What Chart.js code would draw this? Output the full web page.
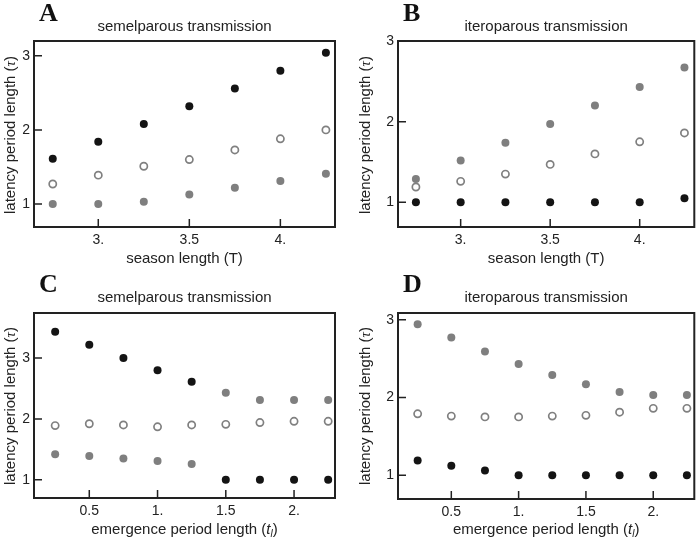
<!DOCTYPE html>
<html>
<head>
<meta charset="utf-8">
<script src="https://cdn.jsdelivr.net/npm/chart.js@4.4.1/dist/chart.umd.min.js"></script>
<style>
body { margin: 0; background: #fff; }
#wrap { position: relative; width: 700px; height: 542px; }
#wrap canvas { position: absolute; }
</style>
</head>
<body>
<div id="wrap">
  <canvas id="panelA" width="350" height="271" style="left:0;top:0"></canvas>
  <canvas id="panelB" width="350" height="271" style="left:350px;top:0"></canvas>
  <canvas id="panelC" width="350" height="271" style="left:0;top:271px"></canvas>
  <canvas id="panelD" width="350" height="271" style="left:350px;top:271px"></canvas>
</div>
<script>
// season length (T) panels A, B
const seasonLength = [2.75, 3, 3.25, 3.5, 3.75, 4, 4.25];
const semelSeasonBlack = [1.61, 1.84, 2.08, 2.32, 2.56, 2.80, 3.04];
const semelSeasonOpen  = [1.27, 1.39, 1.51, 1.60, 1.73, 1.88, 2.00];
const semelSeasonGrey  = [1.00, 1.00, 1.03, 1.13, 1.22, 1.31, 1.41];
const iteroSeasonBlack = [1.00, 1.00, 1.00, 1.00, 1.00, 1.00, 1.05];
const iteroSeasonOpen  = [1.19, 1.26, 1.35, 1.47, 1.60, 1.75, 1.86];
const iteroSeasonGrey  = [1.29, 1.52, 1.74, 1.97, 2.20, 2.43, 2.67];

// emergence period length (t_l) panels C, D
const emergenceLength = [0.25, 0.5, 0.75, 1, 1.25, 1.5, 1.75, 2, 2.25];
const semelEmergBlack = [3.43, 3.22, 3.00, 2.80, 2.61, 1.00, 1.00, 1.00, 1.00];
const semelEmergOpen  = [1.89, 1.92, 1.90, 1.87, 1.90, 1.91, 1.94, 1.96, 1.96];
const semelEmergGrey  = [1.42, 1.39, 1.35, 1.31, 1.26, 2.43, 2.31, 2.31, 2.31];
const iteroEmergBlack = [1.19, 1.12, 1.06, 1.00, 1.00, 1.00, 1.00, 1.00, 1.00];
const iteroEmergOpen  = [1.79, 1.76, 1.75, 1.75, 1.76, 1.77, 1.81, 1.86, 1.86];
const iteroEmergGrey  = [2.94, 2.77, 2.59, 2.43, 2.29, 2.17, 2.07, 2.03, 2.03];

const seasonTicks = [3, 3.5, 4];
const emergenceTicks = [0.5, 1, 1.5, 2];
const latencyTicks = [1, 2, 3];

const SANS = "'Liberation Sans', Arial, sans-serif";
const SERIF = "'Liberation Serif', 'Times New Roman', serif";

function mathFmt(v) {
    // mathematica style: whole numbers get a trailing dot
    return Number.isInteger(v) ? v + '.' : String(v);
}

const latencyTitle = [
    {text: 'latency period length (', font: '15px ' + SANS},
    {text: 'τ', font: 'italic 15px ' + SERIF},
    {text: ')', font: '15px ' + SANS}
];
const seasonTitle = [{text: 'season length (T)', font: '15px ' + SANS}];
const emergenceTitle = [
    {text: 'emergence period length (', font: '15px ' + SANS},
    {text: 't', font: 'italic 15px ' + SANS},
    {text: 'l', font: 'italic 10px ' + SANS, dy: 3},
    {text: ')', font: '15px ' + SANS}
];

function drawRich(ctx, parts, x, y, rotate) {
    ctx.save();
    ctx.translate(x, y);
    if (rotate) ctx.rotate(-Math.PI / 2);
    ctx.textAlign = 'left';
    ctx.textBaseline = 'alphabetic';
    ctx.fillStyle = '#222';
    let w = 0;
    parts.forEach(p => { ctx.font = p.font; w += ctx.measureText(p.text).width; });
    let cx = -w / 2;
    parts.forEach(p => {
        ctx.font = p.font;
        ctx.fillText(p.text, cx, p.dy || 0);
        cx += ctx.measureText(p.text).width;
    });
    ctx.restore();
}

const panelDeco = {
    id: 'panelDeco',
    afterDraw(chart, args, o) {
        const ctx = chart.ctx, a = chart.chartArea;
        const xs = chart.scales.x, ys = chart.scales.y;
        ctx.save();
        ctx.strokeStyle = '#222';
        ctx.lineWidth = 2;
        ctx.strokeRect(a.left, a.top, a.right - a.left, a.bottom - a.top);
        // ticks point into the plot
        ctx.lineWidth = 1.5;
        ctx.beginPath();
        xs.ticks.forEach(t => {
            const px = xs.getPixelForValue(t.value);
            ctx.moveTo(px, a.bottom); ctx.lineTo(px, a.bottom - 8);
        });
        ys.ticks.forEach(t => {
            const py = ys.getPixelForValue(t.value);
            ctx.moveTo(a.left, py); ctx.lineTo(a.left + 8, py);
        });
        ctx.stroke();

        ctx.fillStyle = '#111';
        ctx.font = 'bold 26px ' + SERIF;
        ctx.textAlign = 'left';
        ctx.textBaseline = 'alphabetic';
        ctx.fillText(o.letter, a.left + 5, 21);

        ctx.fillStyle = '#222';
        ctx.font = '15px ' + SANS;
        ctx.textAlign = 'center';
        ctx.fillText(o.title, (a.left + a.right) / 2, 31);
        ctx.restore();

        drawRich(ctx, o.xTitle, (a.left + a.right) / 2, 263);
        drawRich(ctx, o.yTitle, o.yTitleX, 135, true);
    }
};

function pts(xs, ys) {
    return xs.map((x, i) => ({x: x, y: ys[i]}));
}

function makePanel(id, cfg) {
    const box = cfg.box;
    new Chart(document.getElementById(id).getContext('2d'), {
        type: 'scatter',
        data: {
            datasets: [
                {data: pts(cfg.xVals, cfg.black), pointRadius: 4, pointBackgroundColor: '#141414', pointBorderWidth: 0},
                {data: pts(cfg.xVals, cfg.grey), pointRadius: 4, pointBackgroundColor: '#7f7f7f', pointBorderWidth: 0},
                {data: pts(cfg.xVals, cfg.open), pointRadius: 3.6, pointBackgroundColor: '#fff', pointBorderColor: '#808080', pointBorderWidth: 1.7}
            ]
        },
        options: {
            responsive: false,
            animation: false,
            layout: {padding: {top: box.top, right: 350 - box.right, left: 0, bottom: 0}},
            plugins: {
                legend: {display: false},
                tooltip: {enabled: false},
                panelDeco: cfg.deco
            },
            scales: {
                x: {
                    type: 'linear',
                    min: cfg.xRange[0], max: cfg.xRange[1],
                    grid: {display: false, drawTicks: false},
                    border: {display: false},
                    afterBuildTicks: s => { s.ticks = cfg.xTicks.map(v => ({value: v})); },
                    afterFit: s => { s.height = 271 - box.bottom; },
                    ticks: {
                        padding: 5, color: '#222', maxRotation: 0,
                        font: {family: SANS, size: 14},
                        callback: v => mathFmt(v)
                    }
                },
                y: {
                    type: 'linear',
                    min: cfg.yRange[0], max: cfg.yRange[1],
                    grid: {display: false, drawTicks: false},
                    border: {display: false},
                    afterBuildTicks: s => { s.ticks = latencyTicks.map(v => ({value: v})); },
                    afterFit: s => { s.width = box.left; },
                    ticks: {
                        padding: 4, color: '#222',
                        font: {family: SANS, size: 14},
                        callback: v => String(v)
                    }
                }
            }
        },
        plugins: [panelDeco]
    });
}

makePanel('panelA', {
    xVals: seasonLength, black: semelSeasonBlack, grey: semelSeasonGrey, open: semelSeasonOpen,
    xRange: [2.647, 4.30], yRange: [0.69, 3.2], xTicks: seasonTicks,
    box: {left: 34, right: 335, top: 41, bottom: 227},
    deco: {letter: 'A', title: 'semelparous transmission', xTitle: seasonTitle, yTitle: latencyTitle, yTitleX: 15}
});
makePanel('panelB', {
    xVals: seasonLength, black: iteroSeasonBlack, grey: iteroSeasonGrey, open: iteroSeasonOpen,
    xRange: [2.65, 4.305], yRange: [0.694, 3.0], xTicks: seasonTicks,
    box: {left: 48, right: 348, top: 41, bottom: 227},
    deco: {letter: 'B', title: 'iteroparous transmission', xTitle: seasonTitle, yTitle: latencyTitle, yTitleX: 20}
});
makePanel('panelC', {
    xVals: emergenceLength, black: semelEmergBlack, grey: semelEmergGrey, open: semelEmergOpen,
    xRange: [0.095, 2.30], yRange: [0.70, 3.74], xTicks: emergenceTicks,
    box: {left: 34, right: 335, top: 42, bottom: 227},
    deco: {letter: 'C', title: 'semelparous transmission', xTitle: emergenceTitle, yTitle: latencyTitle, yTitleX: 15}
});
makePanel('panelD', {
    xVals: emergenceLength, black: iteroEmergBlack, grey: iteroEmergGrey, open: iteroEmergOpen,
    xRange: [0.104, 2.305], yRange: [0.694, 3.086], xTicks: emergenceTicks,
    box: {left: 48, right: 348, top: 42, bottom: 228},
    deco: {letter: 'D', title: 'iteroparous transmission', xTitle: emergenceTitle, yTitle: latencyTitle, yTitleX: 20}
});
</script>
</body>
</html>
